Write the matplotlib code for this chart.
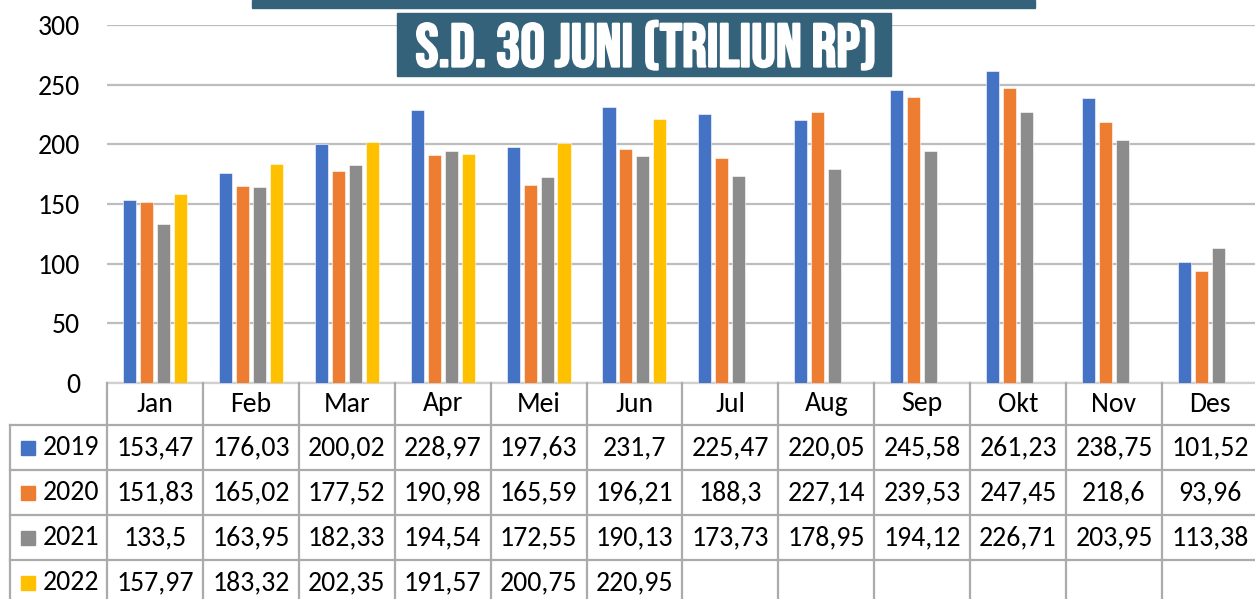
import matplotlib
matplotlib.use("Agg")
import matplotlib.pyplot as plt
import matplotlib.patheffects as pe
from matplotlib.patches import Rectangle
import numpy as np

months = ["Jan", "Feb", "Mar", "Apr", "Mei", "Jun", "Jul", "Aug", "Sep", "Okt", "Nov", "Des"]
years = ["2019", "2020", "2021", "2022"]
v2019 = [153.47, 176.03, 200.02, 228.97, 197.63, 231.7, 225.47, 220.05, 245.58, 261.23, 238.75, 101.52]
v2020 = [151.83, 165.02, 177.52, 190.98, 165.59, 196.21, 188.3, 227.14, 239.53, 247.45, 218.6, 93.96]
v2021 = [133.5, 163.95, 182.33, 194.54, 172.55, 190.13, 173.73, 178.95, 194.12, 226.71, 203.95, 113.38]
v2022 = [157.97, 183.32, 202.35, 191.57, 200.75, 220.95]
series = [v2019, v2020, v2021, v2022]
colors = ["#4472C4", "#ED7D31", "#8C8C8C", "#FFC000"]
title = "S.D. 30 JUNI (TRILIUN RP)"

FONT = "Carlito"
FS = 20
W, H = 1255, 599
col_px = 95.9
left_px, top_px, base_px = 107, 25, 383
row_px = [42, 45, 45, 45, 45]
grid_c = "#bdbdbd"
tab_c = "#ababab"

fig = plt.figure(figsize=(W / 100, H / 100), dpi=100)
ax = fig.add_axes([left_px / W, (H - base_px) / H, 12 * col_px / W, (base_px - top_px) / H])

x = np.arange(len(months))
slot, bw = 0.177, 0.136
for k, (vals, c) in enumerate(zip(series, colors)):
    ax.bar(x[:len(vals)] + (k - 1.5) * slot, vals, bw, color=c, edgecolor="white", linewidth=0.4, zorder=3)

ax.set_xlim(-0.5, 11.5)
ax.set_ylim(0, 300)
ax.set_yticks(range(0, 301, 50))
ax.yaxis.grid(True, color=grid_c, linewidth=1.6, zorder=0)
ax.set_xticks([])
ax.tick_params(axis="y", length=0, pad=19.5, labelsize=FS)
for lab in ax.get_yticklabels():
    lab.set_fontfamily(FONT)
for s in ["top", "right", "left"]:
    ax.spines[s].set_visible(False)
ax.spines["bottom"].set_color("#d0d0d0")
ax.spines["bottom"].set_linewidth(1.6)

# data table below the plot, drawn in figure pixels (y measured from top)
ov = fig.add_axes([0, 0, 1, 1], zorder=5)
ov.set_xlim(0, W)
ov.set_ylim(H, 0)
ov.axis("off")
ov.patch.set_alpha(0)

row_y = np.cumsum([base_px] + row_px)
edges = [left_px + i * col_px for i in range(13)]
leg_left = 10
for e in edges:
    ov.plot([e, e], [base_px, row_y[-1]], color=tab_c, lw=1.6, clip_on=False)
ov.plot([leg_left, leg_left], [row_y[1], row_y[-1]], color=tab_c, lw=1.6)
for yy in row_y[1:-1]:
    ov.plot([leg_left, edges[-1]], [yy, yy], color=tab_c, lw=1.6, clip_on=False)

for i, m in enumerate(months):
    cx = (edges[i] + edges[i + 1]) / 2
    ov.text(cx, (row_y[0] + row_y[1]) / 2, m, ha="center", va="center", fontsize=FS, family=FONT)

for r, (yr, vals, c) in enumerate(zip(years, series, colors)):
    cy = (row_y[r + 1] + row_y[r + 2]) / 2
    ov.add_patch(Rectangle((21, cy - 7), 14, 14, color=c))
    ov.text(43, cy, yr, ha="left", va="center", fontsize=FS, family=FONT)
    for i, v in enumerate(vals):
        cx = (edges[i] + edges[i + 1]) / 2
        txt = f"{v:g}".replace(".", ",")
        ov.text(cx, cy, txt, ha="center", va="center", fontsize=FS, family=FONT)

# title banners
box_c = "#34627A"
ov.add_patch(Rectangle((252, 0), 783, 8, color=box_c))
ov.add_patch(Rectangle((397, 13), 494, 63, color=box_c))
ov.text(646, 45, title, ha="center", va="center", color="white", fontsize=44,
        family="Bebas Neue",
        path_effects=[pe.withStroke(linewidth=1.6, foreground="white")])

fig.savefig("out.png", dpi=100)
